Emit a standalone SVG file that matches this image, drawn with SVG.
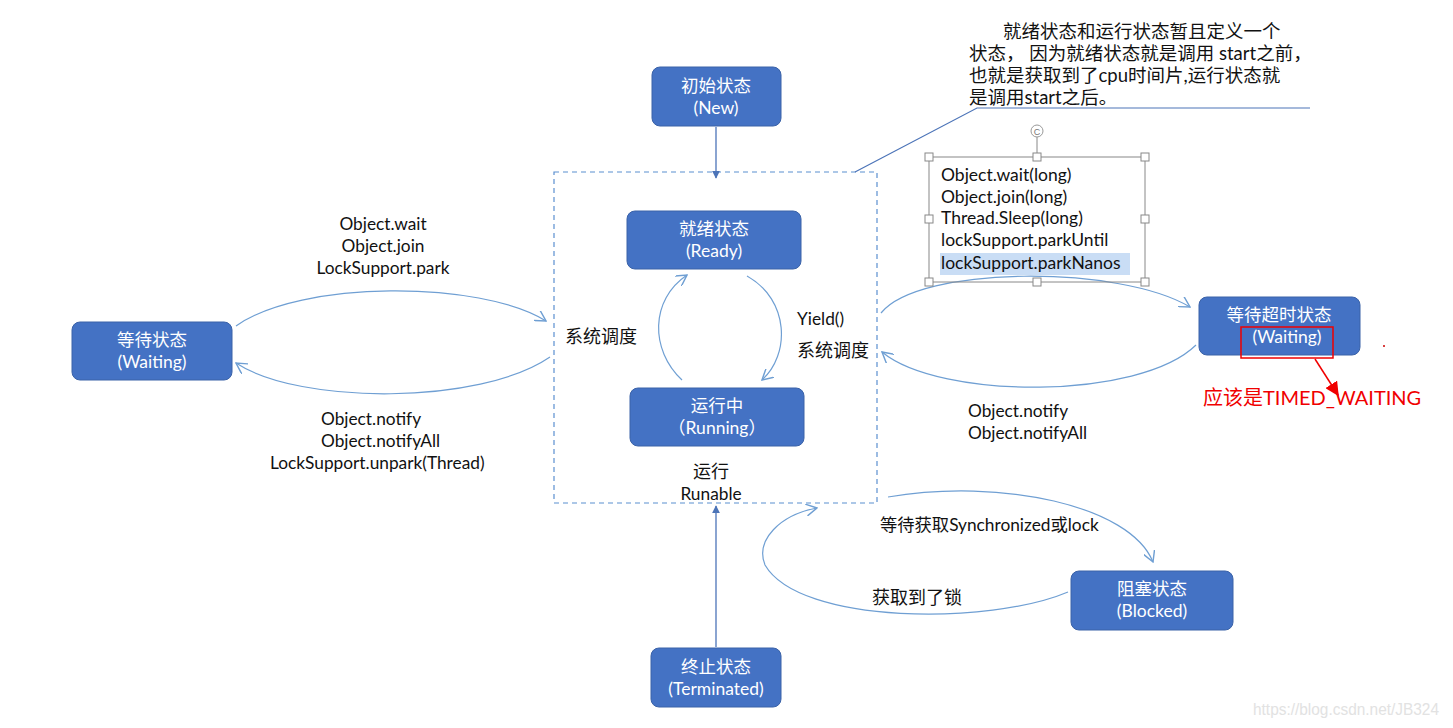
<svg xmlns="http://www.w3.org/2000/svg" width="1453" height="728" viewBox="0 0 1453 728">
<style>
.node rect{fill:#4472C4;stroke:#3A62A8;stroke-width:1}
.nt{font-family:Lato,"Noto Sans CJK SC",sans-serif;font-size:17.5px;fill:#fff;text-anchor:middle}
.lb{font-family:Lato,"Noto Sans CJK SC",sans-serif;font-size:17.3px;fill:#111}
.zh{font-size:18px}
.cn{fill:none;stroke:#6F9FD3;stroke-width:1.2}
.ln{fill:none;stroke:#4C74B8;stroke-width:1.3}
.h{fill:#fff;stroke:#888;stroke-width:1}
</style>
<defs>
<marker id="open" viewBox="0 0 10 10" refX="9" refY="5" markerWidth="12" markerHeight="12" markerUnits="userSpaceOnUse" orient="auto">
<path d="M0,0 L9,5 L0,10" fill="none" stroke="#6F9FD3" stroke-width="1.2"/>
</marker>
<marker id="tri" viewBox="0 0 10 10" refX="9" refY="5" markerWidth="8" markerHeight="8" markerUnits="userSpaceOnUse" orient="auto">
<path d="M0,0 L10,5 L0,10 Z" fill="#4C74B8"/>
</marker>
<marker id="red" viewBox="0 0 10 10" refX="9" refY="5" markerWidth="14" markerHeight="14" markerUnits="userSpaceOnUse" orient="auto">
<path d="M0,0 L10,5 L0,10 Z" fill="#F00000"/>
</marker>
</defs>
<rect width="1453" height="728" fill="#fff"/>

<g id="runnable-box">
<rect x="554" y="172" width="323" height="331" fill="none" stroke="#5B8FD0" stroke-width="1.2" stroke-dasharray="5,4"/>
<text class="lb zh" x="711" y="478" text-anchor="middle">运行</text>
<text class="lb" x="711" y="500" text-anchor="middle">Runable</text>
</g>

<g id="connectors">
<line class="ln" x1="716" y1="127" x2="716" y2="178" marker-end="url(#tri)"/>
<line class="ln" x1="716" y1="647" x2="716" y2="506" marker-end="url(#tri)"/>
<path class="cn" d="M236,326 C300,280 480,280 546,321" marker-end="url(#open)"/>
<path class="cn" d="M550,357 C480,405 300,405 236,363" marker-end="url(#open)"/>
<path class="cn" d="M682,380 C650,350 650,300 687,275" marker-end="url(#open)"/>
<path class="cn" d="M747,276 C790,300 790,355 762,380" marker-end="url(#open)"/>
<path class="cn" d="M881,313 C920,265 1120,265 1190,307" marker-end="url(#open)"/>
<path class="cn" d="M1196,345 C1140,400 940,400 882,352" marker-end="url(#open)"/>
<path class="cn" d="M888,497 C1000,478 1130,505 1153,562" marker-end="url(#open)"/>
<path class="cn" d="M1068,592 C990,625 800,625 765,565 C755,540 780,515 817,508" marker-end="url(#open)"/>
<polyline points="855,172 977,108 1310,108" fill="none" stroke="#4C74B8" stroke-width="1.2"/>
</g>

<g id="node-new" class="node">
<rect x="652" y="67" width="129" height="59" rx="8"/>
<text class="nt" x="716" y="92">初始状态</text>
<text class="nt" x="716" y="114">(New)</text>
</g>
<g id="node-ready" class="node">
<rect x="627" y="211" width="174" height="58" rx="8"/>
<text class="nt" x="714" y="235">就绪状态</text>
<text class="nt" x="714" y="257">(Ready)</text>
</g>
<g id="node-running" class="node">
<rect x="630" y="388" width="174" height="58" rx="8"/>
<text class="nt" x="717" y="412">运行中</text>
<text class="nt" x="717" y="434">（Running）</text>
</g>
<g id="node-waiting" class="node">
<rect x="72" y="322" width="160" height="58" rx="8"/>
<text class="nt" x="152" y="346">等待状态</text>
<text class="nt" x="152" y="368">(Waiting)</text>
</g>
<g id="node-timed" class="node">
<rect x="1199" y="297" width="161" height="58" rx="8"/>
<text class="nt" x="1279" y="321">等待超时状态</text>
<text class="nt" x="1287" y="343">(Waiting)</text>
</g>
<g id="node-blocked" class="node">
<rect x="1071" y="571" width="162" height="59" rx="8"/>
<text class="nt" x="1152" y="595">阻塞状态</text>
<text class="nt" x="1152" y="617">(Blocked)</text>
</g>
<g id="node-terminated" class="node">
<rect x="651" y="648" width="130" height="59" rx="8"/>
<text class="nt" x="716" y="673">终止状态</text>
<text class="nt" x="716" y="695">(Terminated)</text>
</g>

<g id="labels">
<text class="lb" x="383" y="230" text-anchor="middle">Object.wait</text>
<text class="lb" x="383" y="252" text-anchor="middle">Object.join</text>
<text class="lb" x="383" y="274" text-anchor="middle">LockSupport.park</text>
<text class="lb" x="321" y="425">Object.notify</text>
<text class="lb" x="321" y="447">Object.notifyAll</text>
<text class="lb" x="270" y="469">LockSupport.unpark(Thread)</text>
<text class="lb zh" x="565" y="343">系统调度</text>
<text class="lb" x="797" y="325">Yield()</text>
<text class="lb zh" x="797" y="357">系统调度</text>
<text class="lb" x="968" y="417">Object.notify</text>
<text class="lb" x="968" y="439">Object.notifyAll</text>
<text class="lb" x="880" y="531">等待获取Synchronized或lock</text>
<text class="lb zh" x="872" y="604">获取到了锁</text>
</g>

<g id="note" font-family="Lato,'Noto Sans CJK SC',sans-serif" font-size="18.5" fill="#111">
<text x="1003" y="38">就绪状态和运行状态暂且定义一个</text>
<text x="969" y="60">状态， 因为就绪状态就是调用 start之前，</text>
<text x="969" y="82">也就是获取到了cpu时间片,运行状态就</text>
<text x="969" y="104">是调用start之后。</text>
</g>

<g id="timed-methods">
<rect x="940" y="253" width="190" height="22" fill="#C9DDF5"/>
<rect x="929" y="157" width="216" height="125" fill="none" stroke="#888" stroke-width="1"/>
<line x1="1037" y1="137" x2="1037" y2="157" stroke="#888"/>
<circle cx="1037" cy="131" r="6" fill="#fff" stroke="#999"/>
<text x="1037" y="134.5" font-family="Liberation Sans,sans-serif" font-size="9" fill="#777" text-anchor="middle">C</text>
<rect class="h" x="925" y="153" width="8" height="8"/>
<rect class="h" x="1033" y="153" width="8" height="8"/>
<rect class="h" x="1141" y="153" width="8" height="8"/>
<rect class="h" x="925" y="215" width="8" height="8"/>
<rect class="h" x="1141" y="215" width="8" height="8"/>
<rect class="h" x="925" y="278" width="8" height="8"/>
<rect class="h" x="1033" y="278" width="8" height="8"/>
<rect class="h" x="1141" y="278" width="8" height="8"/>
<g font-family="Lato,sans-serif" font-size="17.5" fill="#111">
<text x="941" y="181">Object.wait(long)</text>
<text x="941" y="203">Object.join(long)</text>
<text x="941" y="224">Thread.Sleep(long)</text>
<text x="941" y="246">lockSupport.parkUntil</text>
<text x="941" y="269">lockSupport.parkNanos</text>
</g>
</g>

<g id="red-note">
<rect x="1241" y="327" width="92" height="31" fill="none" stroke="#F00000" stroke-width="1.5"/>
<line x1="1315" y1="359" x2="1338" y2="395" stroke="#F00000" stroke-width="1.5" marker-end="url(#red)"/>
<text x="1203" y="405" font-family="Lato,'Noto Sans CJK SC',sans-serif" font-size="20" fill="#F00000">应该是TIMED_WAITING</text>
<circle cx="1384" cy="346" r="1" fill="#C00"/>
</g>

<text x="1253" y="715" font-family="Liberation Sans,sans-serif" font-size="16" textLength="186" lengthAdjust="spacingAndGlyphs" fill="#E2E2E2">https://blog.csdn.net/JB324</text>
</svg>
